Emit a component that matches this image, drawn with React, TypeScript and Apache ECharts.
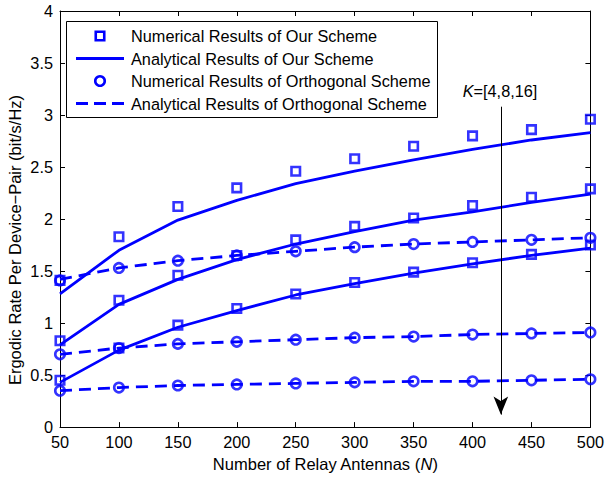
import React, { useEffect, useRef } from "react";
import * as echarts from "echarts";

const relayAntennas = [50, 100, 150, 200, 250, 300, 350, 400, 450, 500];
const xTicks = { min: 50, max: 500, interval: 50 };
const yTicks = { min: 0, max: 4, interval: 0.5 };

// Our scheme, numerical (squares), K = 4, 8, 16
const ourNumK4 = [1.41, 1.83, 2.12, 2.30, 2.46, 2.58, 2.70, 2.80, 2.86, 2.96];
const ourNumK8 = [0.83, 1.22, 1.46, 1.65, 1.80, 1.93, 2.01, 2.13, 2.21, 2.29];
const ourNumK16 = [0.45, 0.76, 0.98, 1.14, 1.28, 1.39, 1.49, 1.58, 1.66, 1.75];
// Our scheme, analytical (solid)
const ourAnaK4 = [1.28, 1.70, 1.99, 2.18, 2.34, 2.46, 2.57, 2.67, 2.76, 2.83];
const ourAnaK8 = [0.79, 1.18, 1.42, 1.61, 1.76, 1.88, 1.99, 2.07, 2.16, 2.24];
const ourAnaK16 = [0.43, 0.74, 0.96, 1.12, 1.27, 1.38, 1.48, 1.57, 1.65, 1.72];
// Orthogonal scheme, numerical (circles)
const orthNumK4 = [1.41, 1.53, 1.60, 1.65, 1.69, 1.73, 1.76, 1.78, 1.80, 1.82];
const orthNumK8 = [0.70, 0.76, 0.80, 0.82, 0.84, 0.86, 0.87, 0.89, 0.90, 0.91];
const orthNumK16 = [0.35, 0.38, 0.40, 0.41, 0.42, 0.43, 0.44, 0.44, 0.45, 0.46];
// Orthogonal scheme, analytical (dashed)
const orthAnaK4 = [1.42, 1.53, 1.60, 1.65, 1.69, 1.73, 1.76, 1.78, 1.80, 1.82];
const orthAnaK8 = [0.70, 0.76, 0.80, 0.82, 0.84, 0.86, 0.87, 0.89, 0.90, 0.91];
const orthAnaK16 = [0.35, 0.38, 0.40, 0.41, 0.42, 0.43, 0.44, 0.44, 0.45, 0.46];

const legendNames = [
  "Numerical Results of Our Scheme",
  "Analytical Results of Our Scheme",
  "Numerical Results of Orthogonal Scheme",
  "Analytical Results of Orthogonal Scheme",
];
const legendKinds = ["square", "solid", "circle", "dashed"];

const xAxisTitle = "Number of Relay Antennas ({i|N})";
const yAxisTitle = "Ergodic Rate Per Device\u2212Pair (bit/s/Hz)";
const annotationText = "{i|K}=[4,8,16]";

// annotation arrow (data coordinates)
const arrowX = 424;
const arrowFromY = 3.08;
const arrowToY = 0.12;

const BLUE = "#0000ff";
const FONT = "Liberation Sans, Arial, sans-serif";
const FS = 16.3;
const LW = 2.8;

const pair = (ys: number[]) => relayAntennas.map((x, i) => [x, ys[i]]);

export default function App() {
  const ref = useRef<HTMLDivElement>(null);
  useEffect(() => {
    if (!ref.current) return;
    const chart = echarts.init(ref.current, undefined, { renderer: "svg" });

    const markerStyle = { fill: "rgba(255,255,255,0)", stroke: BLUE, lineWidth: 2.6 };
    const squareSeries = (data: number[]) => ({
      type: "scatter",
      name: legendNames[0],
      data: pair(data),
      symbol: "rect",
      symbolSize: 8.5,
      z: 5,
      itemStyle: { color: "rgba(255,255,255,0)", borderColor: BLUE, borderWidth: 2.6 },
    });
    const circleSeries = (data: number[]) => ({
      type: "scatter",
      name: legendNames[2],
      data: pair(data),
      symbol: "circle",
      symbolSize: 9.5,
      z: 5,
      itemStyle: { color: "rgba(255,255,255,0)", borderColor: BLUE, borderWidth: 2.6 },
    });
    const lineSeries = (data: number[], dashed: boolean) => ({
      type: "line",
      name: dashed ? legendNames[3] : legendNames[1],
      data: pair(data),
      symbol: "none",
      showSymbol: false,
      z: 4,
      itemStyle: { color: BLUE },
      lineStyle: { color: BLUE, width: LW, type: dashed ? [12, 7] : "solid" },
    });

    const axisCommon = {
      axisLine: { show: true, onZero: false, lineStyle: { color: "#000", width: 1 } },
      axisTick: { show: true, inside: true, length: 5, lineStyle: { color: "#000" } },
      splitLine: { show: false },
    };

    // custom legend box
    const lgLeft = 66, lgTop = 21, lgW = 371, lgH = 96;
    const rowY = [36, 58.5, 81, 103.5];
    const legendGraphics: any[] = [
      {
        type: "rect",
        shape: { x: lgLeft + 0.5, y: lgTop + 0.5, width: lgW, height: lgH },
        style: { fill: "#fff", stroke: "#000", lineWidth: 1 },
        z: 20,
      },
    ];
    legendNames.forEach((name, i) => {
      const y = rowY[i];
      const kind = legendKinds[i];
      if (kind === "square") {
        legendGraphics.push({
          type: "rect",
          shape: { x: 95.75, y: y - 4.25, width: 8.5, height: 8.5 },
          style: markerStyle,
          z: 21,
        });
      } else if (kind === "circle") {
        legendGraphics.push({
          type: "circle",
          shape: { cx: 100, cy: y, r: 4.75 },
          style: markerStyle,
          z: 21,
        });
      } else {
        legendGraphics.push({
          type: "line",
          shape: { x1: 76, y1: y, x2: 124, y2: y },
          style: {
            stroke: BLUE,
            lineWidth: LW,
            lineDash: kind === "dashed" ? [12, 6] : null,
          },
          z: 21,
        });
      }
      legendGraphics.push({
        type: "text",
        x: 131,
        y: y,
        z: 21,
        style: {
          text: name,
          fontSize: FS,
          fontFamily: FONT,
          fill: "#000",
          verticalAlign: "middle",
        },
      });
    });

    chart.setOption({
      animation: false,
      backgroundColor: "#fff",
      textStyle: { fontFamily: FONT },
      grid: { left: 60, right: 15, top: 11, bottom: 46, containLabel: false },
      xAxis: [
        {
          type: "value",
          ...xTicks,
          position: "bottom",
          ...axisCommon,
          axisLabel: { color: "#000", fontSize: FS, fontFamily: FONT, margin: 7 },
          name: xAxisTitle,
          nameLocation: "middle",
          nameGap: 26,
          nameTextStyle: {
            color: "#000",
            fontSize: 16.5,
            fontFamily: FONT,
            rich: { i: { fontStyle: "italic", fontSize: 16.5, fontFamily: FONT, color: "#000" } },
          },
        },
        {
          type: "value",
          ...xTicks,
          position: "top",
          ...axisCommon,
          axisLabel: { show: false },
        },
      ],
      yAxis: [
        {
          type: "value",
          ...yTicks,
          position: "left",
          ...axisCommon,
          axisLabel: { color: "#000", fontSize: FS, fontFamily: FONT, margin: 7 },
        },
        {
          type: "value",
          ...yTicks,
          position: "right",
          ...axisCommon,
          axisLabel: { show: false },
        },
      ],
      graphic: [
        ...legendGraphics,
        {
          type: "text",
          x: 15,
          y: 240,
          rotation: Math.PI / 2,
          z: 10,
          style: {
            text: yAxisTitle,
            fontSize: 16.5,
            fontFamily: FONT,
            fill: "#000",
            align: "center",
            verticalAlign: "middle",
          },
        },
        {
          type: "text",
          x: 500,
          y: 91,
          z: 10,
          style: {
            text: annotationText,
            fontSize: FS,
            fontFamily: FONT,
            fill: "#000",
            align: "center",
            verticalAlign: "middle",
            rich: { i: { fontStyle: "italic", fontSize: FS, fontFamily: FONT, fill: "#000" } },
          },
        },
      ],
      series: [
        lineSeries(orthAnaK4, true),
        lineSeries(orthAnaK8, true),
        lineSeries(orthAnaK16, true),
        lineSeries(ourAnaK4, false),
        lineSeries(ourAnaK8, false),
        lineSeries(ourAnaK16, false),
        squareSeries(ourNumK4),
        squareSeries(ourNumK8),
        squareSeries(ourNumK16),
        circleSeries(orthNumK4),
        circleSeries(orthNumK8),
        {
          ...circleSeries(orthNumK16),
          markLine: {
            silent: true,
            symbol: ["none", "arrow"],
            symbolSize: [11, 18],
            label: { show: false },
            lineStyle: { color: "#000", width: 1, type: "solid" },
            data: [[{ coord: [arrowX, arrowFromY] }, { coord: [arrowX, arrowToY] }]],
          },
        },
      ],
    });
    return () => chart.dispose();
  }, []);
  return (
    <div
      ref={ref}
      style={{ position: "absolute", left: 0, top: 0, width: 607, height: 477 }}
    />
  );
}
